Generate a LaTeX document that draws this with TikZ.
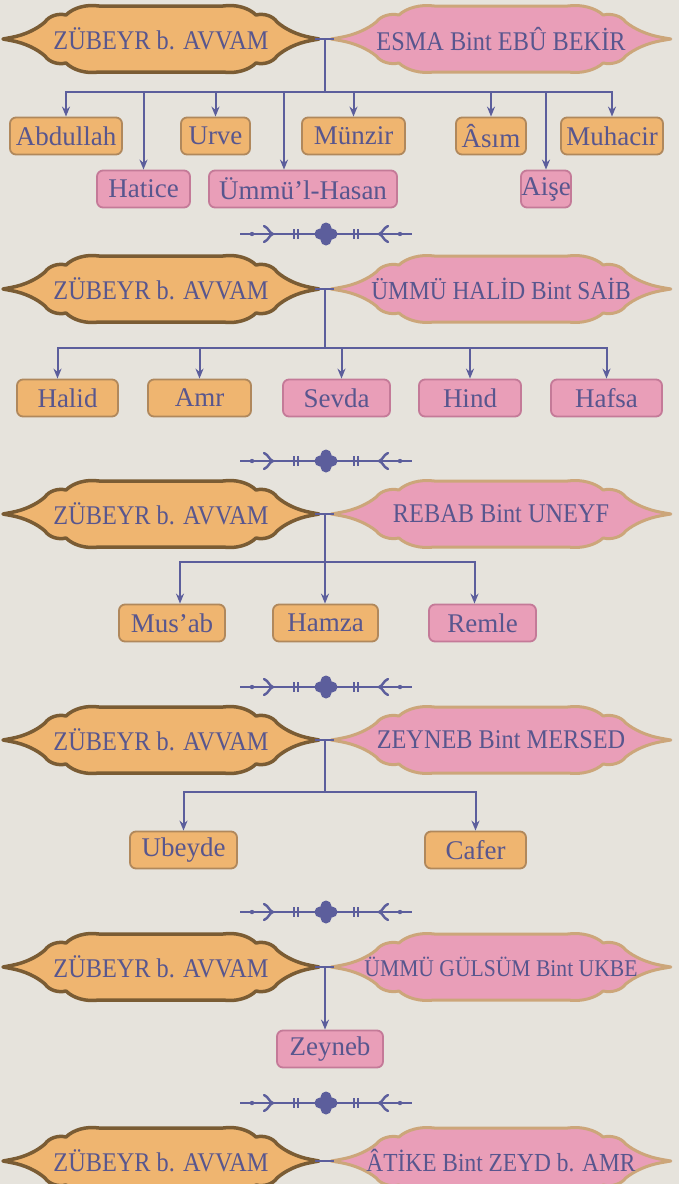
\documentclass[tikz,border=0pt]{standalone}
\usepackage{fontspec}
\setmainfont{Liberation Serif}
\newfontfamily\namefont{Liberation Serif}[FakeStretch=0.9]
\usepackage{xcolor}
\usetikzlibrary{arrows.meta,calc}
\definecolor{paper}{RGB}{230,227,220}
\definecolor{ink}{RGB}{88,86,142}
\definecolor{wire}{RGB}{92,94,156}
\definecolor{orfill}{RGB}{239,181,112}
\definecolor{orline}{RGB}{176,136,92}
\definecolor{hubline}{RGB}{122,92,52}
\definecolor{pkfill}{RGB}{233,158,184}
\definecolor{pkline}{RGB}{196,122,152}
\definecolor{wifeline}{RGB}{204,166,122}
\pgfdeclarelayer{bg}
\pgfsetlayers{bg,main}
\tikzset{
	husband/.style={minimum width=308pt,minimum height=66pt,inner sep=0pt,text=ink,font=\namefont\fontsize{27}{30}\selectfont},
	wife/.style={minimum width=334pt,minimum height=66pt,inner sep=0pt,text=ink,font=\namefont\fontsize{27}{30}\selectfont},
	kid/.style={rounded corners=6pt,line width=1.8pt,minimum height=37pt,inner sep=0pt,text=ink,font=\fontsize{27}{30}\selectfont},
	son/.style={kid,fill=orfill,draw=orline},
	dau/.style={kid,fill=pkfill,draw=pkline},
	famline/.style={wire,line width=2pt},
	kidarrow/.style={famline,-{Stealth[length=10pt,width=8pt]}},
	orn/.pic={
		\draw[wire,line width=1.3pt] (-86,0) -- (86,0);
		\fill[wire] (-74,0) circle (2.2) (74,0) circle (2.2);
		\draw[wire,line width=2.4pt,line cap=round] (-62,-8) .. controls (-57,-6) and (-57,-1) .. (-53,0) .. controls (-57,1) and (-57,6) .. (-62,8);
		\draw[wire,line width=2.4pt,line cap=round] (62,-8) .. controls (57,-6) and (57,-1) .. (53,0) .. controls (57,1) and (57,6) .. (62,8);
		\draw[wire,line width=1.4pt] (-32,-5) -- (-32,5) (-28,-5) -- (-28,5) (28,-5) -- (28,5) (32,-5) -- (32,5);
		\fill[wire] (-6,0) circle (5.5) (6,0) circle (5.5) (0,-6) circle (5.5) (0,6) circle (5.5);
	}
}
\newcommand{\cartouche}[5]{%
	\begin{pgfonlayer}{bg}
	\filldraw[fill=#2,draw=#3,line width=#5,line join=round,shift={(#1.center)},xscale=#4]
		(-158,0) -- (-150,-1.5)
		.. controls (-136,-4) and (-124,-10) .. (-116,-17)
		.. controls (-112,-23) and (-103,-26) .. (-95,-24)
		.. controls (-88,-31) and (-75,-35) .. (-62,-33)
		-- (62,-33)
		.. controls (75,-35) and (88,-31) .. (95,-24)
		.. controls (103,-26) and (112,-23) .. (116,-17)
		.. controls (124,-10) and (136,-4) .. (150,-1.5)
		-- (158,0) -- (150,1.5)
		.. controls (136,4) and (124,10) .. (116,17)
		.. controls (112,23) and (103,26) .. (95,24)
		.. controls (88,31) and (75,35) .. (62,33)
		-- (-62,33)
		.. controls (-75,35) and (-88,31) .. (-95,24)
		.. controls (-103,26) and (-112,23) .. (-116,17)
		.. controls (-124,10) and (-136,4) .. (-150,1.5)
		-- cycle;
	\end{pgfonlayer}}

\begin{document}
\begin{tikzpicture}[x=1pt,y=-1pt]
	\begin{pgfonlayer}{bg}
		\fill[paper] (0,0) rectangle (679,1184);
	\end{pgfonlayer}
	\useasboundingbox (0,0) rectangle (679,1184);

	\node[husband] (z1) at (161,39) {ZÜBEYR b. AVVAM};
	\node[wife] (w1) at (501,39) {ESMA Bint EBÛ BEKİR};
	\coordinate (j1) at (325,39);
	\coordinate (b1) at (325,92);
	\node[son,minimum width=112pt] (abd) at (66,136) {Abdullah};
	\node[son,minimum width=69pt] (urv) at (215.5,136) {Urve};
	\node[son,minimum width=103pt] (mun) at (353.5,136) {Münzir};
	\node[son,minimum width=70pt] (asm) at (491,136) {Âsım};
	\node[son,minimum width=102pt] (muh) at (612,136) {Muhacir};
	\node[dau,minimum width=93pt] (hat) at (143.5,189) {Hatice};
	\node[dau,minimum width=188pt] (umh) at (303,189) {Ümmü’l-Hasan};
	\node[dau,minimum width=50pt] (ais) at (546,189) {Aişe};
	\cartouche{z1}{orfill}{hubline}{1}{3.5pt}
	\cartouche{w1}{pkfill}{wifeline}{1.075}{3pt}
	\draw[famline] (z1.east) -- (w1.west);
	\draw[famline] (j1) -- (b1);
	\foreach \k in {abd,urv,mun,asm,muh,hat,ais}
		\draw[kidarrow] (b1) -| (\k.north);
	\draw[kidarrow] (b1) -| ($(umh.north)+(-19,0)$);
	\pic at (326,234) {orn};

	\node[husband] (z2) at (161,289) {ZÜBEYR b. AVVAM};
	\node[wife,font=\namefont\fontsize{26}{29}\selectfont] (w2) at (501,289) {ÜMMÜ HALİD Bint SAİB};
	\coordinate (j2) at (325,289);
	\coordinate (b2) at (325,348);
	\node[son,minimum width=101pt] (hal) at (67.5,398) {Halid};
	\node[son,minimum width=103pt] (amr) at (199.5,398) {Amr};
	\node[dau,minimum width=107pt] (sev) at (336.5,398) {Sevda};
	\node[dau,minimum width=102pt] (hin) at (470,398) {Hind};
	\node[dau,minimum width=111pt] (haf) at (606.5,398) {Hafsa};
	\cartouche{z2}{orfill}{hubline}{1}{3.5pt}
	\cartouche{w2}{pkfill}{wifeline}{1.075}{3pt}
	\draw[famline] (z2.east) -- (w2.west);
	\draw[famline] (j2) -- (b2);
	\foreach \k in {amr,hin,haf}
		\draw[kidarrow] (b2) -| (\k.north);
	\draw[kidarrow] (b2) -| ($(hal.north)+(-10,0)$);
	\draw[kidarrow] (b2) -| ($(sev.north)+(5,0)$);
	\pic at (326,461) {orn};

	\node[husband] (z3) at (161,514) {ZÜBEYR b. AVVAM};
	\node[wife] (w3) at (501,514) {REBAB Bint UNEYF};
	\coordinate (j3) at (325,514);
	\coordinate (b3) at (325,562);
	\node[son,minimum width=106pt] (mus) at (172,623) {Mus’ab};
	\node[son,minimum width=105pt] (ham) at (325.5,623) {Hamza};
	\node[dau,minimum width=107pt] (rem) at (482.5,623) {Remle};
	\cartouche{z3}{orfill}{hubline}{1}{3.5pt}
	\cartouche{w3}{pkfill}{wifeline}{1.075}{3pt}
	\draw[famline] (z3.east) -- (w3.west);
	\draw[famline] (j3) -- (b3);
	\draw[kidarrow] (b3) -| ($(mus.north)+(8,0)$);
	\draw[kidarrow] (b3) -- (b3 |- ham.north);
	\draw[kidarrow] (b3) -| ($(rem.north)+(-8,0)$);
	\pic at (326,687) {orn};

	\node[husband] (z4) at (161,740) {ZÜBEYR b. AVVAM};
	\node[wife] (w4) at (501,740) {ZEYNEB Bint MERSED};
	\coordinate (j4) at (325,740);
	\coordinate (b4) at (325,792);
	\node[son,minimum width=107pt] (ube) at (183.5,850) {Ubeyde};
	\node[son,minimum width=101pt] (caf) at (475.5,850) {Cafer};
	\cartouche{z4}{orfill}{hubline}{1}{3.5pt}
	\cartouche{w4}{pkfill}{wifeline}{1.075}{3pt}
	\draw[famline] (z4.east) -- (w4.west);
	\draw[famline] (j4) -- (b4);
	\draw[kidarrow] (b4) -| (ube.north);
	\draw[kidarrow] (b4) -| (caf.north);
	\pic at (326,912) {orn};

	\node[husband] (z5) at (161,967) {ZÜBEYR b. AVVAM};
	\node[wife,font=\namefont\fontsize{24}{27}\selectfont] (w5) at (501,967) {ÜMMÜ GÜLSÜM Bint UKBE};
	\coordinate (j5) at (325,967);
	\node[dau,minimum width=106pt] (zey) at (330,1049) {Zeyneb};
	\cartouche{z5}{orfill}{hubline}{1}{3.5pt}
	\cartouche{w5}{pkfill}{wifeline}{1.075}{3pt}
	\draw[famline] (z5.east) -- (w5.west);
	\draw[kidarrow] (j5) -- (j5 |- zey.north);
	\pic at (326,1103) {orn};

	\node[husband] (z6) at (161,1161) {ZÜBEYR b. AVVAM};
	\node[wife,font=\namefont\fontsize{26}{29}\selectfont] (w6) at (501,1161) {ÂTİKE Bint ZEYD b. AMR};
	\cartouche{z6}{orfill}{hubline}{1}{3.5pt}
	\cartouche{w6}{pkfill}{wifeline}{1.075}{3pt}
	\draw[famline] (z6.east) -- (w6.west);
\end{tikzpicture}
\end{document}
